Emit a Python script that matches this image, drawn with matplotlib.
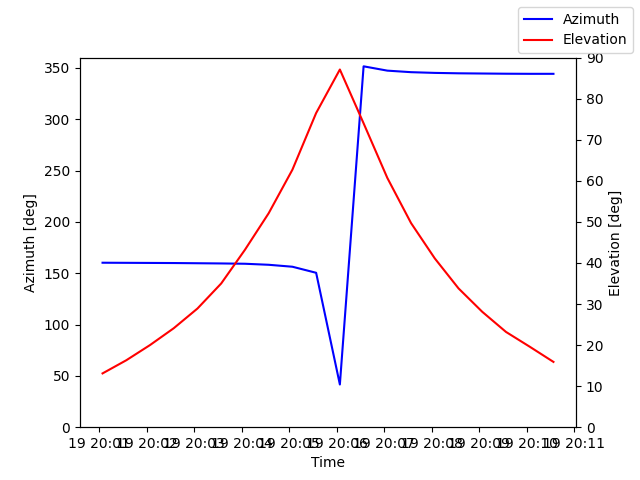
import matplotlib
matplotlib.use("Agg")
import matplotlib.pyplot as plt
import numpy as np
import pandas as pd

times = pd.date_range("2023-01-19 20:01:04", periods=20, freq="30s")
azimuth = [160.2, 160.1, 160.0, 159.9, 159.7, 159.5, 159.2, 158.2, 156.3, 150.4,
           41.6, 351.5, 347.3, 345.8, 345.1, 344.7, 344.5, 344.3, 344.2, 344.2]
elevation = [13.1, 16.3, 20.0, 24.1, 28.9, 35.0, 43.2, 52.1, 62.7, 76.5,
             87.1, 74.0, 60.7, 49.7, 41.1, 33.8, 28.1, 23.2, 19.6, 15.9]

fig, ax1 = plt.subplots(figsize=(6.4, 4.8), dpi=100)
ax1.plot(times.to_pydatetime(), azimuth, color='b', label='Azimuth')
ax1.set_ylim(0, 360)
ax1.set_xlabel('Time')
ax1.set_ylabel('Azimuth [deg]')

ax2 = ax1.twinx()
ax2.plot(times.to_pydatetime(), elevation, color='r', label='Elevation')
ax2.set_ylim(0, 90)
ax2.set_ylabel('Elevation [deg]')

fig.legend(loc='upper right')
fig.savefig('out.png')
